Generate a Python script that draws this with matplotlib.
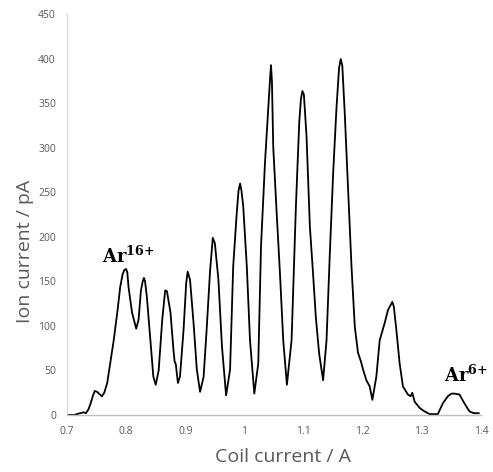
import matplotlib
matplotlib.use("Agg")
import matplotlib.pyplot as plt

# coil current (A) and ion current (pA)
coil_current = [0.700, 0.712, 0.722, 0.728, 0.732, 0.736, 0.740, 0.744, 0.747, 0.751,
                0.754, 0.759, 0.763, 0.768, 0.773, 0.779, 0.785, 0.790, 0.794, 0.797,
                0.800, 0.802, 0.804, 0.810, 0.817, 0.821, 0.825, 0.828, 0.830, 0.832,
                0.835, 0.841, 0.846, 0.850, 0.855, 0.861, 0.866, 0.869, 0.875, 0.880,
                0.882, 0.884, 0.8875, 0.891, 0.897, 0.9015, 0.904, 0.908, 0.914, 0.9195,
                0.925, 0.931, 0.936, 0.942, 0.9465, 0.950, 0.956, 0.962, 0.969, 0.9757,
                0.981, 0.987, 0.990, 0.9926, 0.995, 0.998, 1.004, 1.0094, 1.0167, 1.0234,
                1.028, 1.0347, 1.0403, 1.0435, 1.0449, 1.0465, 1.0487, 1.0545, 1.060, 1.0656,
                1.0718, 1.0797, 1.087, 1.0926, 1.0955, 1.098, 1.1005, 1.105, 1.1106, 1.116,
                1.1207, 1.1263, 1.133, 1.1388, 1.1444, 1.150, 1.1557, 1.160, 1.1629, 1.1655,
                1.1696, 1.1753, 1.181, 1.1866, 1.192, 1.195, 1.197, 1.2006, 1.2062, 1.2118,
                1.2163, 1.223, 1.2287, 1.237, 1.2427, 1.2484, 1.2500, 1.2525, 1.2568, 1.2624,
                1.268, 1.2764, 1.281, 1.2838, 1.2877, 1.2961, 1.3045, 1.313, 1.327, 1.3354,
                1.3438, 1.350, 1.355, 1.3636, 1.372, 1.3804, 1.388, 1.3961]
ion_current = [0, 0, 2, 3, 2, 6, 13, 22, 27, 26,
               24, 21, 25, 36, 58, 84, 115, 144, 158, 163,
               164, 160, 144, 115, 97, 107, 140, 150, 154, 150,
               133, 84, 43, 34, 50, 107, 140, 139, 115, 73,
               60, 57, 36, 43, 95, 148, 161, 152, 103, 51,
               26, 43, 95, 163, 199, 193, 152, 77, 22, 51,
               167, 227, 252, 260, 252, 234, 167, 84, 24, 58,
               189, 283, 346, 380, 393, 375, 301, 227, 160, 84,
               34, 84, 234, 328, 355, 364, 360, 313, 212, 159,
               110, 69, 39, 84, 182, 272, 346, 390, 400, 392,
               339, 253, 167, 99, 70, 64, 60, 51, 39, 32,
               17, 43, 84, 103, 118, 125, 127, 122, 96, 58,
               32, 23, 21, 25, 15, 8, 4, 1, 1, 13,
               21, 24, 24, 23, 13, 4, 2, 2]

x_ticks = [0.7, 0.8, 0.9, 1.0, 1.1, 1.2, 1.3, 1.4]
x_tick_labels = ["0.7", "0.8", "0.9", "1", "1.1", "1.2", "1.3", "1.4"]
y_ticks = [0, 50, 100, 150, 200, 250, 300, 350, 400, 450]

if __name__ == "__main__":
    plt.rcParams['mathtext.fontset'] = 'dejavuserif'
    fig = plt.figure(figsize=(4.93, 4.72), dpi=100)
    ax = fig.add_axes([0.1359, 0.1208, 0.8398, 0.8485])

    ax.plot(coil_current, ion_current, color='black', linewidth=1.3)

    ax.set_xlim(0.7, 1.4)
    ax.set_ylim(0, 450)
    ax.set_xticks(x_ticks)
    ax.set_xticklabels(x_tick_labels)
    ax.set_yticks(y_ticks)
    ax.tick_params(length=0, labelsize=7.5, labelcolor='#595959', pad=8)
    for lab in ax.get_xticklabels() + ax.get_yticklabels():
        lab.set_family('Open Sans')

    for side in ['top', 'right']:
        ax.spines[side].set_visible(False)
    ax.spines['left'].set_color('#d9d9d9')
    ax.spines['bottom'].set_color('#bfbfbf')
    ax.spines['left'].set_linewidth(1.0)
    ax.spines['bottom'].set_linewidth(1.0)

    # axis titles
    fig.text(283 / 493, 1 - 457 / 472, 'Coil current / A', ha='center', va='center',
             fontsize=14, color='#595959', family='Open Sans')
    fig.text(25 / 493, 1 - 251 / 472, 'Ion current / pA', ha='center', va='center',
             rotation=90, fontsize=14, color='#595959', family='Open Sans')

    # charge state labels
    ax.text(0.760, 171, r'$\mathbf{Ar^{16{+}}}$', fontsize=13, color='black',
            ha='left', va='baseline')
    ax.text(1.3366, 37.5, r'$\mathbf{Ar^{6{+}}}$', fontsize=13, color='black',
            ha='left', va='baseline')

    fig.savefig('out.png', dpi=100)
